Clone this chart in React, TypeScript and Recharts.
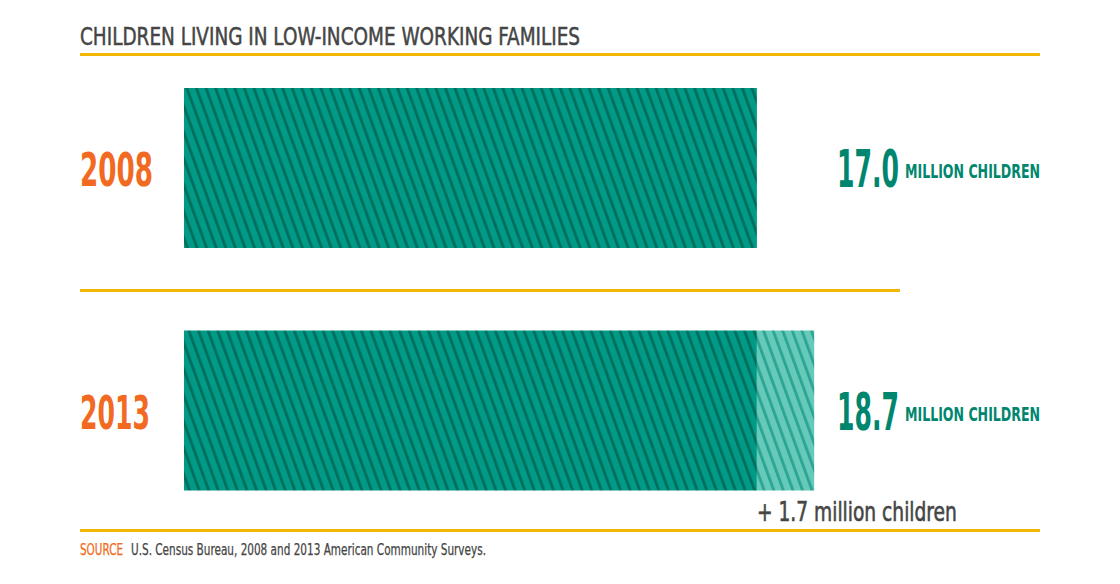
import React from 'react';
import { BarChart, Bar, XAxis, YAxis, LabelList, Customized } from 'recharts';

const years = ['2008', '2013'];
const baseValues = [17.0, 17.0];
const increaseValues = [0, 1.7];
const totalValues = [17.0, 18.7];
const totalLabels = ['17.0', '18.7'];
const unitLabel = 'MILLION CHILDREN';
const increaseNotes = ['', '+ 1.7 million children'];
const titleText = 'CHILDREN LIVING IN LOW-INCOME WORKING FAMILIES';
const sourceLead = 'SOURCE';
const sourceText = 'U.S. Census Bureau, 2008 and 2013 American Community Surveys.';

const data = years.map((y, i) => ({
  year: y,
  base: baseValues[i],
  increase: increaseValues[i],
  total: totalValues[i],
  totalLabel: totalLabels[i],
  note: increaseNotes[i],
}));

const FONT = "'Liberation Sans Narrow', 'DejaVu Sans Condensed', Roboto, sans-serif";
const GOLD = '#f2b705';
const ORANGE = '#f26a21';
const TEAL_TEXT = '#00866f';
const GRAY = '#454545';

const YearTick = (props: any) => {
  const { y, payload } = props;
  const w = payload.value === '2008' ? 73 : 70;
  return (
    <text x={80} y={y + 18} fill={ORANGE} fontFamily={FONT} fontSize={47} fontWeight={700}
      textLength={w} lengthAdjust="spacingAndGlyphs">
      {payload.value}
    </text>
  );
};

const BarLabels = (props: any) => {
  const { x, y, width, height, index } = props;
  const cy = y + height / 2;
  const note = increaseNotes[index];
  return (
    <g>
      <g transform={`translate(837, ${cy + 19}) scale(1, 1.85)`}>
        <text x={0} y={0} fill={TEAL_TEXT} fontFamily={FONT} fontSize={28}
          fontWeight={700} textLength={62} lengthAdjust="spacingAndGlyphs">
          {totalLabels[index]}
        </text>
      </g>
      <text x={905} y={cy + 10} fill={TEAL_TEXT} fontFamily={FONT} fontSize={20} fontWeight={700}
        textLength={135} lengthAdjust="spacingAndGlyphs">
        {unitLabel}
      </text>
      {note ? (
        <text x={x + width} y={y + height + 30} fill={GRAY} stroke={GRAY} strokeWidth={0.6}
          fontFamily={FONT} fontSize={27} textLength={200} lengthAdjust="spacingAndGlyphs">
          {note}
        </text>
      ) : null}
    </g>
  );
};

const Decorations = () => (
  <g>
    <text x={80} y={45} fill={GRAY} stroke={GRAY} strokeWidth={0.5} fontFamily={FONT} fontSize={25}
      textLength={500} lengthAdjust="spacingAndGlyphs">
      {titleText}
    </text>
    <rect x={80} y={53} width={960} height={3} fill={GOLD} />
    <rect x={80} y={289} width={820} height={3} fill={GOLD} />
    <rect x={80} y={529} width={960} height={3} fill={GOLD} />
    <text x={80} y={555} fill={ORANGE} stroke={ORANGE} strokeWidth={0.25} fontFamily={FONT}
      fontSize={15} textLength={43} lengthAdjust="spacingAndGlyphs">
      {sourceLead}
    </text>
    <text x={131} y={555} fill={GRAY} stroke={GRAY} strokeWidth={0.25} fontFamily={FONT}
      fontSize={15} textLength={355} lengthAdjust="spacingAndGlyphs">
      {sourceText}
    </text>
  </g>
);

export default function App() {
  return (
    <div style={{ position: 'absolute', left: 0, top: 0, width: 1120, height: 584, background: '#fff' }}>
      <BarChart width={1120} height={584} data={data} layout="vertical"
        margin={{ top: 47, right: 262, bottom: 52, left: 80 }} barSize={160}>
        <defs>
          <pattern id="hatchDark" patternUnits="userSpaceOnUse" width={9} height={9}
            patternTransform="rotate(-20)">
            <rect x={0} y={0} width={9} height={9} fill="#009a86" />
            <rect x={0} y={0} width={2.8} height={9} fill="#006e5d" />
          </pattern>
          <pattern id="hatchLight" patternUnits="userSpaceOnUse" width={9} height={9}
            patternTransform="rotate(-20)">
            <rect x={0} y={0} width={9} height={9} fill="#66c9ba" />
            <rect x={0} y={0} width={2.8} height={9} fill="#2aa592" />
          </pattern>
        </defs>
        <XAxis type="number" domain={[0, 20]} hide />
        <YAxis type="category" dataKey="year" width={104} axisLine={false} tickLine={false}
          tick={<YearTick />} />
        <Bar dataKey="base" stackId="a" fill="url(#hatchDark)" isAnimationActive={false}>
          <LabelList dataKey="total" content={<BarLabels />} />
        </Bar>
        <Bar dataKey="increase" stackId="a" fill="url(#hatchLight)" isAnimationActive={false} />
        <Customized component={<Decorations />} />
      </BarChart>
    </div>
  );
}
